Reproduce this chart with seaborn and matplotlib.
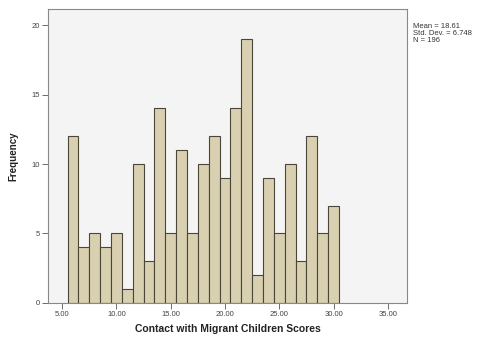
import numpy as np
import pandas as pd
import matplotlib
matplotlib.use("Agg")
import matplotlib.pyplot as plt
import seaborn as sns

scores = [6, 7, 8, 9, 10, 11, 12, 13, 14, 15, 16, 17, 18, 19, 20, 21, 22, 23, 24, 25, 26, 27, 28, 29, 30]
counts = [12, 4, 5, 4, 5, 1, 10, 3, 14, 5, 11, 5, 10, 12, 9, 14, 19, 2, 9, 5, 10, 3, 12, 5, 7]
xticks = [5, 10, 15, 20, 25, 30, 35]
yticks = [0, 5, 10, 15, 20]
stats_text = "Mean = 18.61\nStd. Dev. = 6.748\nN = 196"

df = pd.DataFrame({"score": np.repeat(scores, counts)})

sns.set_style("white")
plt.rcParams['font.family'] = ['Liberation Sans', 'DejaVu Sans']

fig = plt.figure(figsize=(4.85, 3.37), dpi=100)
fig.patch.set_facecolor("white")
ax = fig.add_axes([0.099, 0.101, 0.74, 0.872])
ax.set_facecolor("#f4f4f4")

sns.histplot(data=df, x="score", bins=list(np.arange(5.5, 31.5, 1)),
             color="#d8d0b0", edgecolor="#4a4638", linewidth=0.8, alpha=1, ax=ax)

ax.set_xlim(3.7, 36.75)
ax.set_ylim(0, 21.15)
ax.set_xticks(xticks)
ax.set_xticklabels([f"{t:.2f}" for t in xticks], fontsize=5.5, color="#444444")
ax.set_yticks(yticks)
ax.set_yticklabels([str(t) for t in yticks], fontsize=5.5, color="#444444")
ax.tick_params(axis="both", which="both", direction="out", length=4, width=0.6,
               color="#555555", pad=2, bottom=True, left=True)
for s in ax.spines.values():
    s.set_color("#888888")
    s.set_linewidth(0.8)
ax.set_xlabel("Contact with Migrant Children Scores", fontsize=7.5, fontweight="bold",
              color="#222222", labelpad=4)
ax.set_ylabel("Frequency", fontsize=7, fontweight="bold", color="#222222", labelpad=9)

fig.text(0.852, 0.932, stats_text, fontsize=5.5, color="#333333", va="top", ha="left",
         linespacing=1.05)

fig.savefig("out.png", dpi=100)
